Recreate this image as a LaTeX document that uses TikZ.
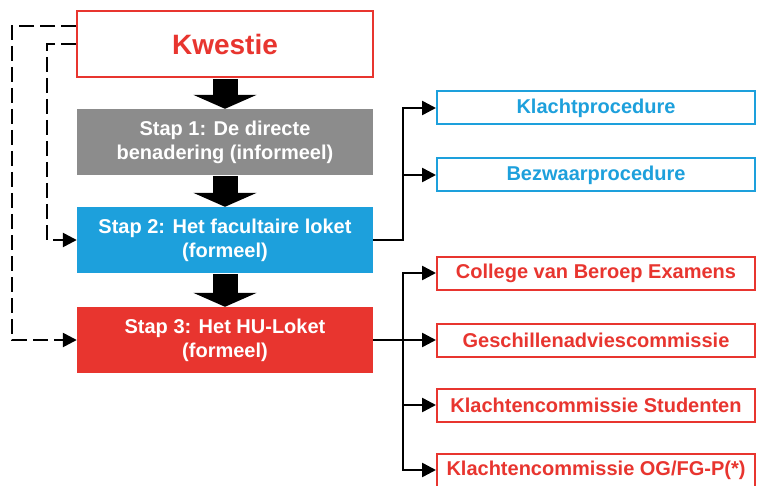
\documentclass[tikz,border=0pt]{standalone}
\usepackage{fontspec}
\setmainfont{Liberation Sans}
\usetikzlibrary{arrows.meta}
\definecolor{huRed}{HTML}{E8352F}
\definecolor{huBlue}{HTML}{1DA0DC}
\definecolor{huGray}{HTML}{8C8C8C}

\begin{document}
\begin{tikzpicture}[x=1pt,y=-1pt,
  stap/.style={minimum width=296pt,minimum height=66pt,inner sep=0pt,align=center,
    text=white,font=\bfseries\fontsize{20}{24}\selectfont},
  sub/.style={draw=#1,text=#1,line width=2pt,fill=white,minimum width=318pt,
    minimum height=33pt,inner sep=0pt,font=\bfseries\fontsize{20}{24}\selectfont},
  bigarrow/.style={line width=25pt,-{Triangle[length=14pt,width=63pt]},shorten <=1pt},
  thinarrow/.style={line width=2.5pt,-{Triangle[length=14pt,width=14pt]}},
  dashline/.style={thinarrow,dash pattern=on 15pt off 6pt}]

  \useasboundingbox (0,0) rectangle (759,486);

  % left column
  \node[draw=huRed,line width=2pt,fill=white,minimum width=296pt,minimum height=66pt,
    inner sep=0pt,text=huRed,font=\bfseries\fontsize{28}{32}\selectfont] (kw) at (225,44) {Kwestie};
  \node[stap,fill=huGray] (s1) at (225,142) {Stap 1: De directe\\benadering (informeel)};
  \node[stap,fill=huBlue] (s2) at (225,240) {Stap 2: Het facultaire loket\\(formeel)};
  \node[stap,fill=huRed]  (s3) at (225,340) {Stap 3: Het HU-Loket\\(formeel)};

  \draw[bigarrow] (kw) -- (s1);
  \draw[bigarrow] (s1) -- (s2);
  \draw[bigarrow] (s2) -- (s3);

  % dashed returns
  \coordinate (outA) at (12,26);
  \coordinate (inB) at (47,44);
  \draw[dashline] (kw.west |- outA) -- (outA) |- (s3.west);
  \draw[dashline] (kw.west) -- (inB) |- (s2.west);

  % right column
  \node[sub=huBlue] (kp) at (596,108) {Klachtprocedure};
  \node[sub=huBlue] (bp) at (596,175) {Bezwaarprocedure};
  \node[sub=huRed] (cbe) at (596,273) {College van Beroep Examens};
  \node[sub=huRed] (gac) at (596,340) {Geschillenadviescommissie};
  \node[sub=huRed] (kcs) at (596,405) {Klachtencommissie Studenten};
  \node[sub=huRed] (kog) at (596,470) {Klachtencommissie OG/FG-P(*)};

  \foreach \n in {kp,bp}
    \draw[thinarrow] (s2.east) -- ++(30,0) |- (\n.west);
  \foreach \n in {cbe,gac,kcs,kog}
    \draw[thinarrow] (s3.east) -- ++(30,0) |- (\n.west);

\end{tikzpicture}
\end{document}
